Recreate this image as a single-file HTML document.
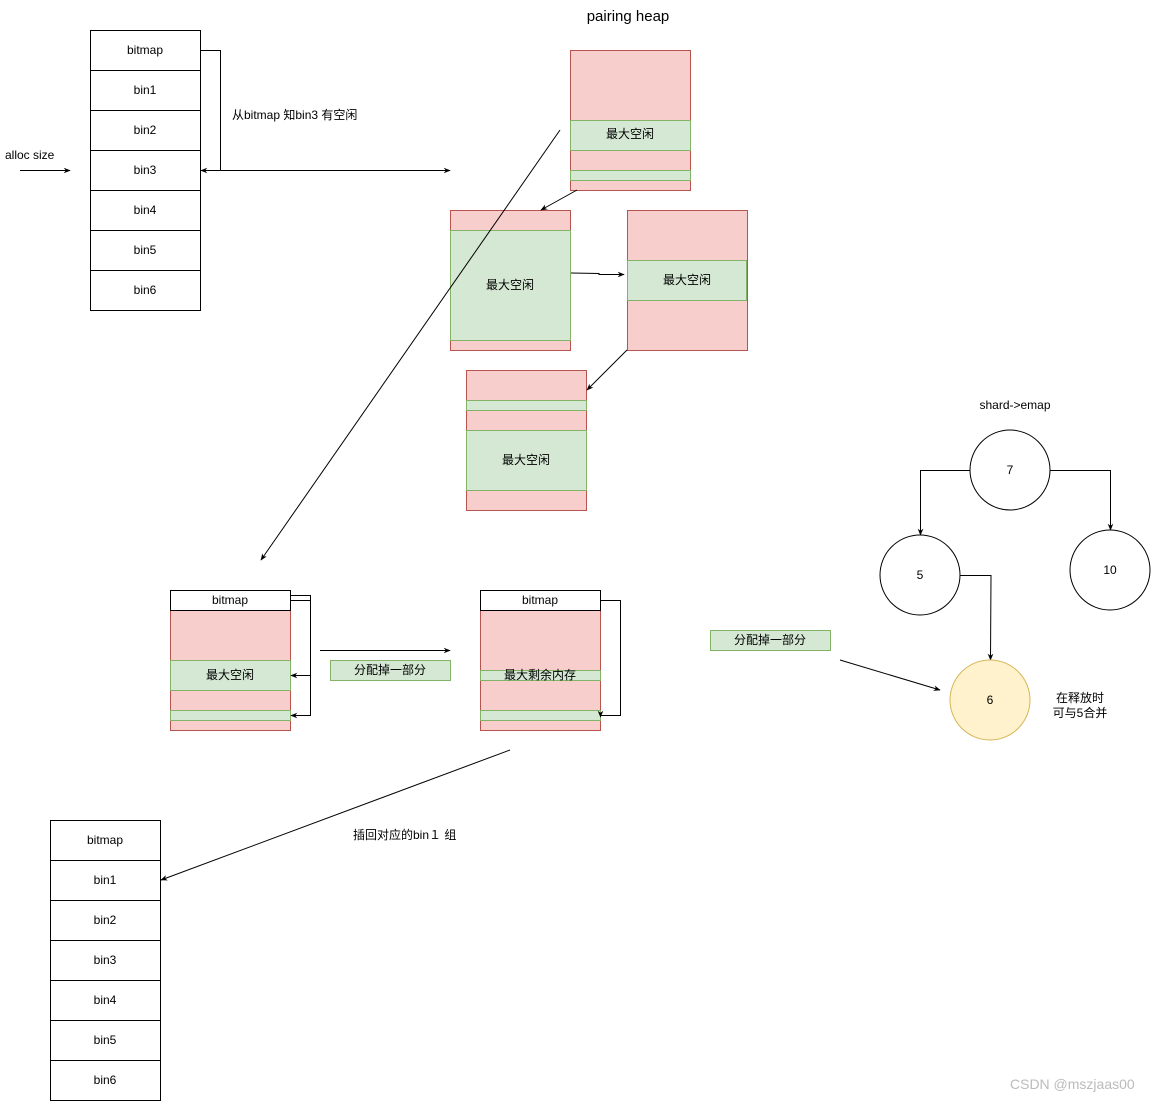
<!DOCTYPE html>
<html><head><meta charset="utf-8"><style>body{margin:0;background:#fff}svg{display:block}text{font-family:"Liberation Sans","Noto Sans CJK SC",sans-serif;font-size:12px;fill:#000}</style></head><body>
<svg width="1151" height="1101" viewBox="0 0 1151 1101" xmlns="http://www.w3.org/2000/svg">
<defs><marker id="a" viewBox="0 0 10 10" refX="9" refY="5" markerWidth="7" markerHeight="7" orient="auto"><path d="M0,1 L10,5 L0,9 L3,5 z" fill="#000"/></marker></defs>
<g stroke="#000" fill="#fff">
<rect x="90.5" y="30.5" width="110" height="40"/><rect x="90.5" y="70.5" width="110" height="40"/><rect x="90.5" y="110.5" width="110" height="40"/><rect x="90.5" y="150.5" width="110" height="40"/><rect x="90.5" y="190.5" width="110" height="40"/><rect x="90.5" y="230.5" width="110" height="40"/><rect x="90.5" y="270.5" width="110" height="40"/>
<rect x="50.5" y="820.5" width="110" height="40"/><rect x="50.5" y="860.5" width="110" height="40"/><rect x="50.5" y="900.5" width="110" height="40"/><rect x="50.5" y="940.5" width="110" height="40"/><rect x="50.5" y="980.5" width="110" height="40"/><rect x="50.5" y="1020.5" width="110" height="40"/><rect x="50.5" y="1060.5" width="110" height="40"/>
</g>
<g text-anchor="middle">
<text x="145" y="54">bitmap</text><text x="145" y="94">bin1</text><text x="145" y="134">bin2</text><text x="145" y="174">bin3</text><text x="145" y="214">bin4</text><text x="145" y="254">bin5</text><text x="145" y="294">bin6</text>
<text x="105" y="844">bitmap</text><text x="105" y="884">bin1</text><text x="105" y="924">bin2</text><text x="105" y="964">bin3</text><text x="105" y="1004">bin4</text><text x="105" y="1044">bin5</text><text x="105" y="1084">bin6</text>
</g>
<g stroke-width="1">
<!-- heap boxes -->
<g stroke="#b85450" fill="#f8cecc">
<rect x="570.5" y="50.5" width="120" height="140"/>
<rect x="450.5" y="210.5" width="120" height="140"/>
<rect x="627.5" y="210.5" width="120" height="140"/>
<rect x="466.5" y="370.5" width="120" height="140"/>
<rect x="170.5" y="610.5" width="120" height="120"/>
<rect x="480.5" y="610.5" width="120" height="120"/>
</g>
<g stroke="#82b366" fill="#d5e8d4">
<rect x="570.5" y="120.5" width="120" height="30"/><rect x="570.5" y="170.5" width="120" height="10"/>
<rect x="450.5" y="230.5" width="120" height="110"/>
<rect x="627.5" y="260.5" width="119" height="40"/>
<rect x="466.5" y="400.5" width="120" height="10"/><rect x="466.5" y="430.5" width="120" height="60"/>
<rect x="170.5" y="660.5" width="120" height="30"/><rect x="170.5" y="710.5" width="120" height="10"/>
<rect x="480.5" y="670.5" width="120" height="10"/><rect x="480.5" y="710.5" width="120" height="10"/>
<rect x="330.5" y="660.5" width="120" height="20"/><rect x="710.5" y="630.5" width="120" height="20"/>
</g>
<g stroke="#000" fill="#fff"><rect x="170.5" y="590.5" width="120" height="20"/><rect x="480.5" y="590.5" width="120" height="20"/></g>
</g>
<g text-anchor="middle">
<text x="630" y="138">最大空闲</text><text x="510" y="289">最大空闲</text><text x="687" y="284">最大空闲</text><text x="526" y="464">最大空闲</text>
<text x="230" y="604">bitmap</text><text x="540" y="604">bitmap</text><text x="230" y="679">最大空闲</text><text x="540" y="679">最大剩余内存</text>
<text x="390" y="674">分配掉一部分</text><text x="770" y="644">分配掉一部分</text>
<text x="628" y="21" style="font-size:15px">pairing heap</text>
<text x="1015" y="409">shard-&gt;emap</text>
<text x="1080" y="702">在释放时</text><text x="1080" y="717">可与5合并</text>
</g>
<text x="5" y="159">alloc size</text>
<text x="232" y="119">从bitmap 知bin3 有空闲</text>
<text x="353" y="839">插回对应的bin１ 组</text>
<text x="1010" y="1089" style="font-size:14px;fill:#bbb">CSDN @mszjaas00</text>
<g stroke="#000" fill="none" marker-end="url(#a)">
<path d="M200,50.5H220.5V170.5H201"/>
<path d="M201,170.5H450"/>
<path d="M20,170.5H70"/>
<path d="M560,130L261,560"/>
<path d="M577,190L541,210"/>
<path d="M571,273L599,273.5V274.5H624"/>
<path d="M627,350L587,390"/>
<path d="M290,595.5H310.5V675.5H291"/>
<path d="M290,600.5H310.5V715.5H291"/>
<path d="M320,650.5H450"/>
<path d="M600,600.5H620.5V715.5H600.5V717"/>
<path d="M840,660L940,690"/>
<path d="M510,750L161,880"/>
<path d="M970,470.5H920.5V535"/>
<path d="M1050,470.5H1110.5V530"/>
<path d="M960,575.5H991L990.5,660"/>
</g>
<g stroke="#000" fill="#fff"><circle cx="1010" cy="470" r="40"/><circle cx="920" cy="575" r="40"/><circle cx="1110" cy="570" r="40"/></g>
<circle cx="990" cy="700" r="40" fill="#fff2cc" stroke="#d6b656"/>
<g text-anchor="middle"><text x="1010" y="474">7</text><text x="920" y="579">5</text><text x="1110" y="574">10</text><text x="990" y="704">6</text></g>
</svg>
</body></html>
